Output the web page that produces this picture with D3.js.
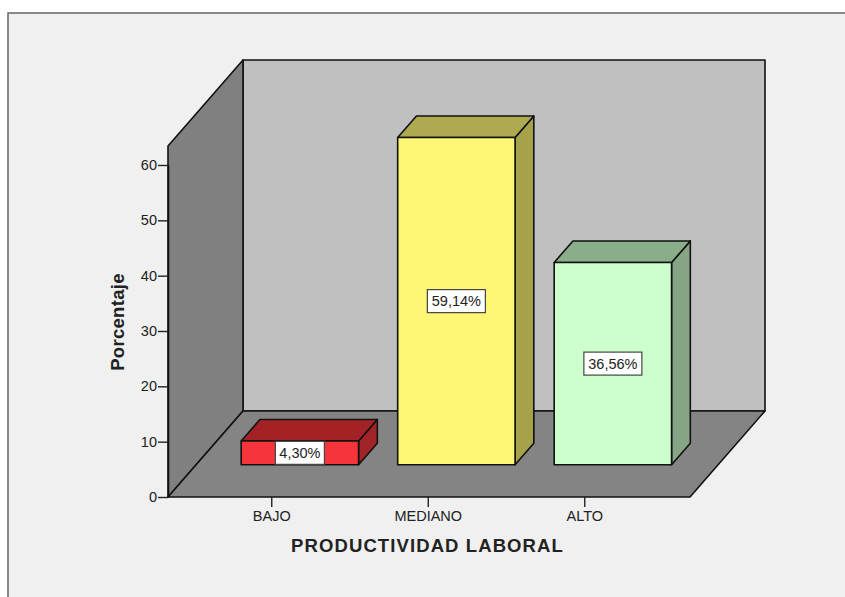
<!DOCTYPE html>
<html>
<head>
<meta charset="utf-8">
<script src="https://cdn.jsdelivr.net/npm/d3@7"></script>
<style>
  html, body { margin: 0; padding: 0; background: #fff; }
  svg { display: block; }
  text { font-family: "Liberation Sans", Arial, sans-serif; fill: #222; }
</style>
</head>
<body>
<svg id="chart" width="845" height="597"></svg>
<script>
// Chart values
const categories = ['BAJO', 'MEDIANO', 'ALTO'];
const percentages = [4.30, 59.14, 36.56];
const valueLabels = ['4,30%', '59,14%', '36,56%'];
const yTicks = [0, 10, 20, 30, 40, 50, 60];
const frontColors = ['#f5343c', '#fdf775', '#ccffcc'];
const topColors = ['#a42226', '#aeaa50', '#8aae8a'];
const sideColors = ['#a02428', '#a5a24a', '#85a585'];

const svg = d3.select('#chart');

// Floor/wall geometry
const plotLeft = 168, plotRight = 690, plotBottom = 497, plotTop = 146;
const depthX = 75, depthY = 86;
const barDepth = 0.25;

// Scales
const yScale = d3.scaleLinear().domain([0, 60]).range([plotBottom, 165]);
const xScale = d3.scaleBand()
  .domain(categories)
  .range([193.5, 663])
  .paddingInner(0.25)
  .paddingOuter(0.125);

const poly = (pts, fill) => svg.append('polygon')
  .attr('points', pts.map(p => p.join(',')).join(' '))
  .attr('fill', fill)
  .attr('stroke', '#111')
  .attr('stroke-width', 1.6)
  .attr('stroke-linejoin', 'round');

// Chart frame
svg.append('rect').attr('x', 8).attr('y', 13).attr('width', 845).attr('height', 600)
  .attr('fill', '#f0f0f0').attr('stroke', '#666').attr('stroke-width', 1.5);

// Back wall, side wall, floor
poly([[plotLeft + depthX, plotTop - depthY], [plotRight + depthX, plotTop - depthY], [plotRight + depthX, plotBottom - depthY], [plotLeft + depthX, plotBottom - depthY]], '#c0c0c0');
poly([[plotLeft, plotTop], [plotLeft + depthX, plotTop - depthY], [plotLeft + depthX, plotBottom - depthY], [plotLeft, plotBottom]], '#808080');
poly([[plotLeft, plotBottom], [plotLeft + depthX, plotBottom - depthY], [plotRight + depthX, plotBottom - depthY], [plotRight, plotBottom]], '#848484');

// Axes
const yAxis = svg.append('g')
  .attr('transform', `translate(${plotLeft}, 0)`)
  .call(d3.axisLeft(yScale).tickValues(yTicks).tickSize(10).tickPadding(1).tickSizeOuter(0));

const xAxis = svg.append('g')
  .attr('transform', `translate(0, ${plotBottom})`)
  .call(d3.axisBottom(xScale).tickSize(10).tickPadding(4).tickSizeOuter(0));

// floor outline already draws the x axis line
xAxis.select('.domain').remove();
yAxis.select('.domain').attr('stroke', '#111').attr('stroke-width', 1.6);

[yAxis, xAxis].forEach(axis => {
  axis.selectAll('.tick line').attr('stroke', '#222').attr('stroke-width', 1.4);
  axis.selectAll('text').attr('font-size', 14.5).style('font-family', '"Liberation Sans", Arial, sans-serif').attr('fill', '#222');
});

// Bars, centred in the depth of the floor
const offset = (1 - barDepth) / 2;
const offX = depthX * offset, offY = depthY * offset;
const dx = depthX * barDepth, dy = depthY * barDepth;

categories.forEach((cat, i) => {
  const x0 = xScale(cat) + offX;
  const x1 = x0 + xScale.bandwidth();
  const y0 = yScale(0) - offY;
  const y1 = yScale(percentages[i]) - offY;

  poly([[x1, y1], [x1 + dx, y1 - dy], [x1 + dx, y0 - dy], [x1, y0]], sideColors[i]);
  poly([[x0, y1], [x0 + dx, y1 - dy], [x1 + dx, y1 - dy], [x1, y1]], topColors[i]);
  poly([[x0, y1], [x1, y1], [x1, y0], [x0, y0]], frontColors[i]);

  // Value label box
  const cx = (x0 + x1) / 2, cy = (y0 + y1) / 2;
  const w = i === 0 ? 49 : 58, h = 23;
  svg.append('rect')
    .attr('x', cx - w / 2).attr('y', cy - h / 2)
    .attr('width', w).attr('height', h)
    .attr('fill', '#fff').attr('stroke', '#444').attr('stroke-width', 1.2);
  svg.append('text')
    .attr('x', cx).attr('y', cy + 5)
    .attr('text-anchor', 'middle')
    .attr('font-size', 14.5)
    .text(valueLabels[i]);
});

// Axis titles
svg.append('text')
  .attr('x', 427.5).attr('y', 551.5)
  .attr('text-anchor', 'middle')
  .attr('font-size', 18.5)
  .attr('font-weight', 'bold')
  .attr('letter-spacing', 1.1)
  .attr('fill', '#111')
  .text('PRODUCTIVIDAD LABORAL');

svg.append('text')
  .attr('transform', 'translate(124, 322) rotate(-90)')
  .attr('text-anchor', 'middle')
  .attr('font-size', 18.5)
  .attr('font-weight', 'bold')
  .attr('letter-spacing', 0.3)
  .attr('fill', '#111')
  .text('Porcentaje');
</script>
</body>
</html>
